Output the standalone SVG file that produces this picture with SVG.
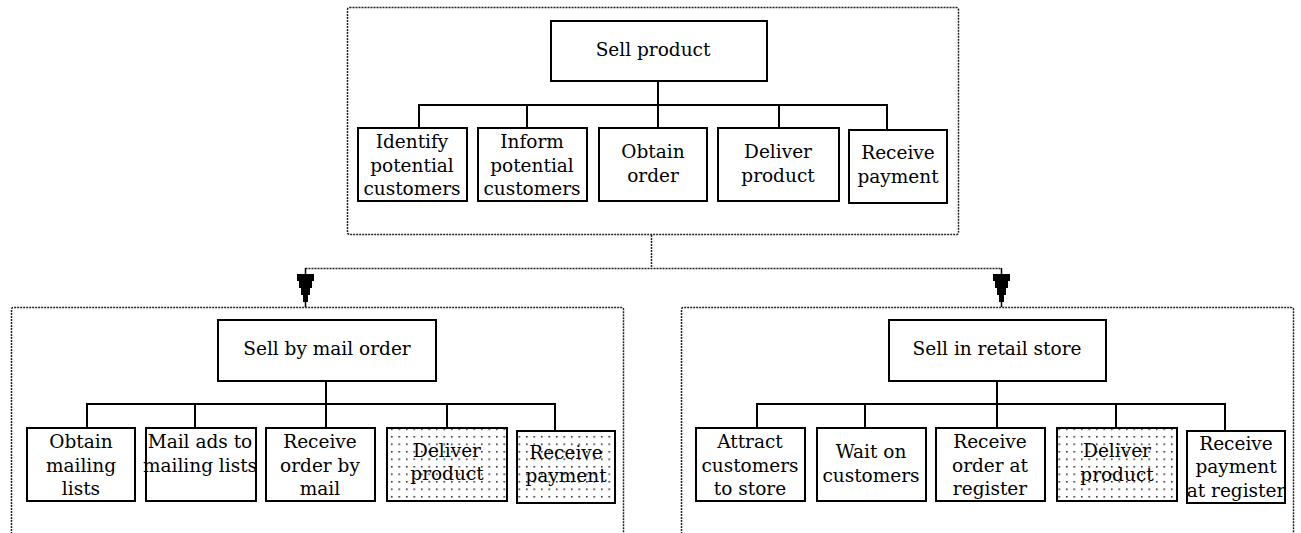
<svg xmlns="http://www.w3.org/2000/svg" width="1301" height="533" viewBox="0 0 1301 533">
<style>
.box{fill:#fff;stroke:#000;stroke-width:2}
.dbox{fill:url(#dots);stroke:#000;stroke-width:2}
.frame{fill:none;stroke:#222;stroke-width:1.5;stroke-dasharray:2 1}
.ln{fill:none;stroke:#000;stroke-width:2}
.dl{fill:none;stroke:#222;stroke-width:1.5;stroke-dasharray:2 1}
text{font-family:"DejaVu Serif","Liberation Serif",serif;font-size:18.5px;fill:#000;text-anchor:middle}
</style>
<defs>
<pattern id="dots" width="7.5" height="7.5" patternUnits="userSpaceOnUse">
<rect width="7.5" height="7.5" fill="#fff"/>
<rect x="1" y="1" width="1.5" height="1.5" fill="#111"/>
</pattern>
<path id="ah" d="M-8.5,0 H8.5 V7 H6.5 V14 H4.5 V21 H2.5 V28 H-2.5 V21 H-4.5 V14 H-6.5 V7 H-8.5 Z" fill="#000"/>
</defs>
<g id="frames">
<rect class="frame" x="347.5" y="7.5" width="611" height="227" rx="2"/>
<path class="frame" d="M11.5,540 V309.5 Q11.5,307.5 13.5,307.5 H621.5 Q623.5,307.5 623.5,309.5 V540"/>
<path class="frame" d="M681.5,540 V309.5 Q681.5,307.5 683.5,307.5 H1291.5 Q1293.5,307.5 1293.5,309.5 V540"/>
</g>
<g id="connectors">
<path class="dl" d="M651.5,235 V268.5 M305.5,268.5 H1001.5"/>
<path d="M305.5,268 V307 M1001.5,268 V307" stroke="#000" stroke-width="1.5"/>
<use href="#ah" x="305.5" y="274"/>
<use href="#ah" x="1001.5" y="274"/>
<path class="ln" d="M658,81 V128 M419,105 H887 M419,104 V128 M527,104 V128 M779,104 V128 M887,104 V130"/>
<path class="ln" d="M326,381 V428 M87,404 H555 M87,403 V428 M195,403 V428 M447,403 V428 M555,403 V431"/>
<path class="ln" d="M997,381 V428 M757,404 H1225 M757,403 V428 M865,403 V428 M1116,403 V428 M1225,403 V431"/>
</g>
<g id="n-sell-product"><rect class="box" x="551" y="21" width="216" height="60"/><text x="653" y="56">Sell product</text></g>
<g id="n-identify"><rect class="box" x="358" y="128" width="109" height="73"/><text x="412" y="148">Identify</text><text x="412" y="172">potential</text><text x="412" y="195">customers</text></g>
<g id="n-inform"><rect class="box" x="478" y="128" width="109" height="73"/><text x="532" y="148">Inform</text><text x="532" y="172">potential</text><text x="532" y="195">customers</text></g>
<g id="n-obtain-order"><rect class="box" x="599" y="128" width="108" height="73"/><text x="653" y="158">Obtain</text><text x="653" y="182">order</text></g>
<g id="n-deliver"><rect class="box" x="718" y="128" width="121" height="73"/><text x="778" y="158">Deliver</text><text x="778" y="182">product</text></g>
<g id="n-receive"><rect class="box" x="849" y="130" width="98" height="73"/><text x="898" y="159">Receive</text><text x="898" y="183">payment</text></g>

<g id="n-mail-order"><rect class="box" x="218" y="320" width="218" height="61"/><text x="327" y="355">Sell by mail order</text></g>
<g id="n-obtain-lists"><rect class="box" x="27" y="428" width="108" height="73"/><text x="81" y="448">Obtain</text><text x="81" y="472">mailing</text><text x="81" y="495">lists</text></g>
<g id="n-mail-ads"><rect class="box" x="146" y="428" width="110" height="73"/><text x="200" y="448">Mail ads to</text><text x="200" y="472">mailing lists</text></g>
<g id="n-receive-mail"><rect class="box" x="266" y="428" width="109" height="73"/><text x="320" y="448">Receive</text><text x="320" y="472">order by</text><text x="320" y="495">mail</text></g>
<g id="n-mail-deliver"><rect class="dbox" x="387" y="428" width="120" height="73"/><text x="447" y="457">Deliver</text><text x="447" y="480">product</text></g>
<g id="n-mail-receive"><rect class="dbox" x="517" y="431" width="98" height="72"/><text x="566" y="459">Receive</text><text x="566" y="482">payment</text></g>

<g id="n-retail"><rect class="box" x="889" y="320" width="217" height="61"/><text x="997" y="355">Sell in retail store</text></g>
<g id="n-attract"><rect class="box" x="696" y="428" width="109" height="73"/><text x="750" y="448">Attract</text><text x="750" y="472">customers</text><text x="750" y="495">to store</text></g>
<g id="n-wait"><rect class="box" x="817" y="428" width="109" height="73"/><text x="871" y="458">Wait on</text><text x="871" y="482">customers</text></g>
<g id="n-receive-register"><rect class="box" x="936" y="428" width="109" height="73"/><text x="990" y="448">Receive</text><text x="990" y="472">order at</text><text x="990" y="495">register</text></g>
<g id="n-retail-deliver"><rect class="dbox" x="1057" y="428" width="120" height="73"/><text x="1117" y="457">Deliver</text><text x="1117" y="481">product</text></g>
<g id="n-retail-receive"><rect class="box" x="1187" y="431" width="98" height="72"/><text x="1236" y="450">Receive</text><text x="1236" y="473">payment</text><text x="1236" y="497">at register</text></g>
</svg>
